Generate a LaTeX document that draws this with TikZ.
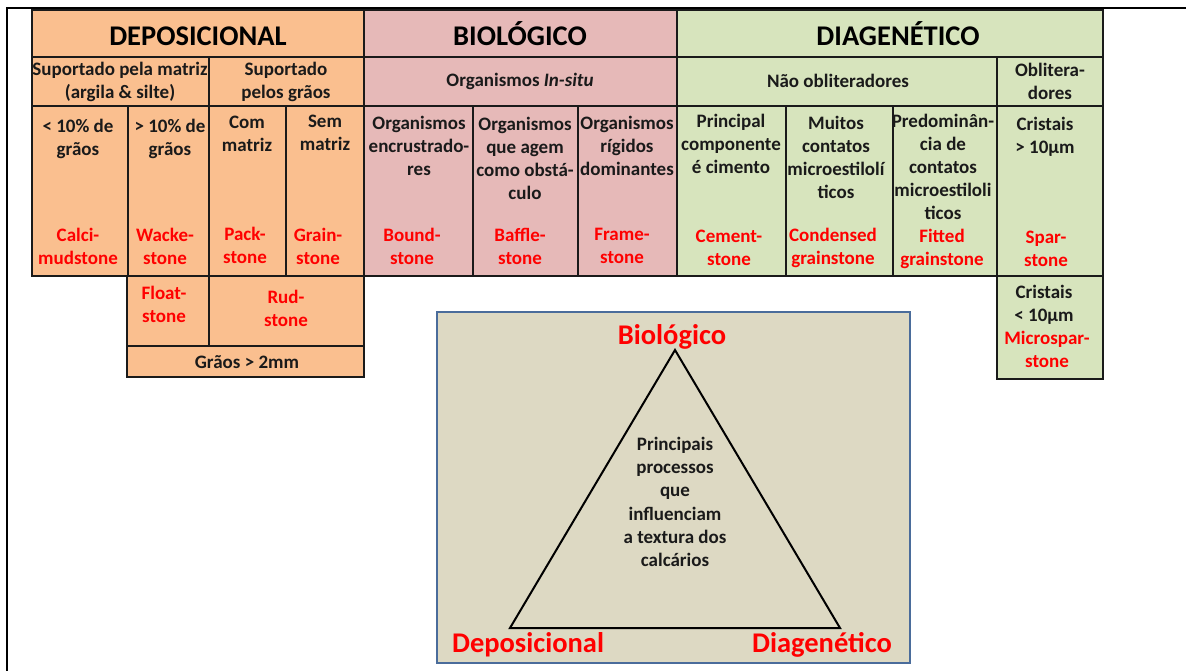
\documentclass[tikz,border=0pt]{standalone}
\usepackage{fontspec}
\setmainfont{Carlito}
\definecolor{dep}{HTML}{FABF8F}
\definecolor{bio}{HTML}{E6B9B8}
\definecolor{dia}{HTML}{D7E4BD}
\definecolor{tanbox}{HTML}{DDD9C3}
\definecolor{boxline}{HTML}{4A6C9B}
\definecolor{rtxt}{HTML}{FF0000}
\definecolor{ink}{HTML}{1A1A1A}
\tikzset{
  cellline/.style={draw=ink, line width=2.2pt},
  txt/.style={font=\bfseries\fontsize{19}{23}\selectfont, align=center, inner sep=0pt, text=ink},
  redtxt/.style={txt, text=rtxt},
  headtxt/.style={font=\bfseries\fontsize{28.5}{32}\selectfont, inner sep=0pt, text=black, anchor=base},
  bigred/.style={font=\bfseries\fontsize{28.5}{32}\selectfont, inner sep=0pt, text=rtxt, anchor=base},
}
\begin{document}
\begin{tikzpicture}[x=1pt,y=-1pt]
\useasboundingbox (0,0) rectangle (1186,671);
% outer frame
\draw[line width=2.5pt, black] (1186,8) -- (7,8) -- (7,671);
% fills
\fill[dep] (32,10) rectangle (364,276);
\fill[dep] (127,276) rectangle (364,377);
\fill[bio] (364,10) rectangle (677,276);
\fill[dia] (677,10) rectangle (1103,276);
\fill[dia] (997,276) rectangle (1103,379);
% cells
\draw[cellline] (32,10) rectangle (364,57);
\draw[cellline] (364,10) rectangle (677,57);
\draw[cellline] (677,10) rectangle (1103,57);
\draw[cellline] (32,57) rectangle (209,106);
\draw[cellline] (209,57) rectangle (364,106);
\draw[cellline] (364,57) rectangle (677,106);
\draw[cellline] (677,57) rectangle (997,106);
\draw[cellline] (997,57) rectangle (1103,106);
\foreach \a/\b in {32/128,128/209,209/286,286/364,364/473,473/578,578/677,677/786,786/893,893/997,997/1103}
  \draw[cellline] (\a,106) rectangle (\b,276);
\draw[cellline] (127,276) rectangle (209,346);
\draw[cellline] (209,276) rectangle (364,346);
\draw[cellline] (127,346) rectangle (364,377);
\draw[cellline] (997,276) rectangle (1103,379);
% headers
\node[headtxt] (hdep) at (198,46) {DEPOSICIONAL};
\node[headtxt] (hbio) at (520,46) {BIOLÓGICO};
\node[headtxt] (hdia) at (898,46) {DIAGENÉTICO};
% row 2
\node[txt] (smat) at (120,81.5) {Suportado pela matriz\\(argila \& silte)};
\node[txt] (sgr) at (286,81.5) {Suportado\\pelos grãos};
\node[txt] (insitu) at (520,81) {Organismos \textit{In-situ}};
\node[txt] (nobl) at (838,81) {Não obliteradores};
\node[txt] (obl) at (1050,81.5) {Oblitera-\\dores};
% row 3 black
\node[txt] (c1) at (78,138.5) {< 10\% de\\grãos};
\node[txt] (c2) at (170,139) {> 10\% de\\grãos};
\node[txt] (c3) at (247,134) {Com\\matriz};
\node[txt] (c4) at (325,133) {Sem\\matriz};
\node[txt] (c5) at (419,146) {Organismos\\encrustrado-\\res};
\node[txt] (c6) at (525,158) {Organismos\\que agem\\como obstá-\\culo};
\node[txt] (c7) at (627,146) {Organismos\\rígidos\\dominantes};
\node[txt] (c8) at (731,144) {Principal\\componente\\é cimento};
\node[txt] (c9) at (836,157.5) {Muitos\\contatos\\microestilolí\\ticos};
\node[txt] (c10) at (943,167) {Predominân-\\cia de\\contatos\\microestiloli\\ticos};
\node[txt] (c11) at (1045,137) {Cristais\\> 10µm};
% row 3 red
\node[redtxt] (r1) at (78,246.5) {Calci-\\mudstone};
\node[redtxt] (r2) at (165,246) {Wacke-\\stone};
\node[redtxt] (r3) at (245,245.5) {Pack-\\stone};
\node[redtxt] (r4) at (318,246) {Grain-\\stone};
\node[redtxt] (r5) at (412,246) {Bound-\\stone};
\node[redtxt] (r6) at (520,246) {Baffle-\\stone};
\node[redtxt] (r7) at (622,246) {Frame-\\stone};
\node[redtxt] (r8) at (729,247.5) {Cement-\\stone};
\node[redtxt] (r9) at (833,248) {Condensed\\grainstone};
\node[redtxt] (r10) at (942,248.5) {Fitted\\grainstone};
\node[redtxt] (r11) at (1046,248.5) {Spar-\\stone};
% lower
\node[redtxt] (fl) at (164,304.5) {Float-\\stone};
\node[redtxt] (rud) at (286,308.5) {Rud-\\stone};
\node[txt] (gr2) at (247,362) {Grãos > 2mm};
\node[txt] (cr2) at (1044,304.5) {Cristais\\< 10µm};
\node[redtxt] (msp) at (1047,349.5) {Microspar-\\stone};
% triangle box
\draw[boxline, line width=1.8pt, fill=tanbox] (437,312) rectangle (910,663);
\coordinate (ta) at (675,350);
\coordinate (tl) at (510,628);
\coordinate (tr) at (840,628);
\draw[black, line width=2pt, line join=miter] (ta) -- (tl) -- (tr) -- cycle;
\node[bigred] (lbio) at (672,344) {Biológico};
\node[bigred] (ldep) at (528,652) {Deposicional};
\node[bigred] (ldia) at (822,652) {Diagenético};
\node[txt, font=\bfseries\fontsize{19}{23.3}\selectfont] (ctr) at (675,502) {Principais\\processos\\que\\influenciam\\a textura dos\\calcários};
\end{tikzpicture}
\end{document}
